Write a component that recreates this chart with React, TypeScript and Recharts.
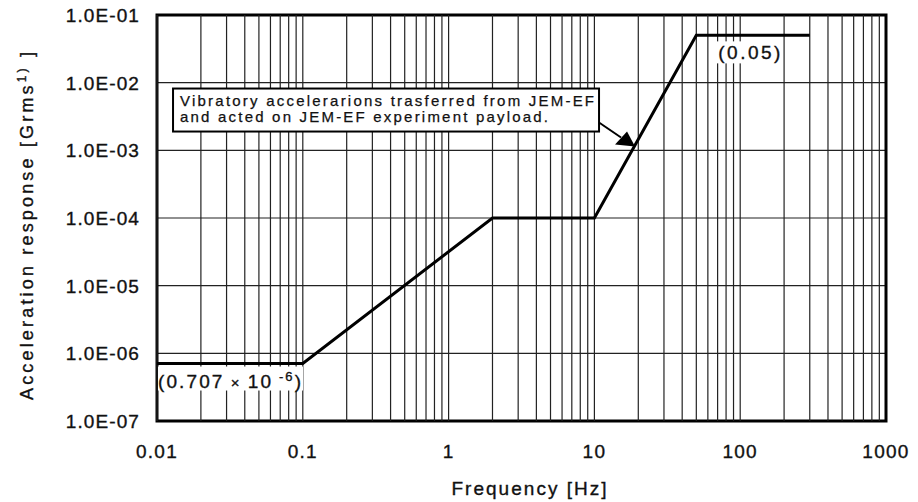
import React from "react";
import {
  LineChart,
  Line,
  XAxis,
  YAxis,
  CartesianGrid,
  ReferenceLine,
  ReferenceArea,
  ReferenceDot,
} from "recharts";

const FONT = "'Liberation Sans', Arial, Helvetica, sans-serif";
const INK = "#111";

// corner points of the response curve
const freq = [0.01, 0.1, 2, 10, 50, 300];
const accel = [0.707e-6, 0.707e-6, 1e-4, 1e-4, 0.05, 0.05];

const xTicks = [0.01, 0.1, 1, 10, 100, 1000];
const xTickLabels = ["0.01", "0.1", "1", "10", "100", "1000"];
const yTicks = [1e-7, 1e-6, 1e-5, 1e-4, 1e-3, 1e-2, 1e-1];
const yTickLabels = ["1.0E-07", "1.0E-06", "1.0E-05", "1.0E-04", "1.0E-03", "1.0E-02", "1.0E-01"];

const decades = [0.01, 0.1, 1, 10, 100];
const minorSteps = [2, 3, 4, 5, 6, 7, 8, 9];
const gridX = [...decades, ...decades.flatMap((d) => minorSteps.map((m) => d * m))];

const data = freq.map((f, i) => ({ f, a: accel[i] }));

const closest = (arr: number[], v: number) => {
  let best = 0;
  arr.forEach((t, i) => {
    if (Math.abs(Math.log10(t) - Math.log10(v)) < Math.abs(Math.log10(arr[best]) - Math.log10(v))) best = i;
  });
  return best;
};

const heavy = { stroke: INK, strokeWidth: 0.35 };

function XTick(props: any) {
  const { x, y, payload } = props;
  const i = closest(xTicks, payload.value);
  return (
    <text x={x} y={y + 35} textAnchor="middle" fontSize={19} letterSpacing={1.3} fill={INK} fontFamily={FONT} {...heavy}>
      {xTickLabels[i]}
    </text>
  );
}

function YTick(props: any) {
  const { x, y, payload } = props;
  const i = closest(yTicks, payload.value);
  return (
    <text x={x - 15} y={y + 7} textAnchor="end" fontSize={19} letterSpacing={1.1} fill={INK} fontFamily={FONT} {...heavy}>
      {yTickLabels[i]}
    </text>
  );
}

function LowLabel(props: any) {
  const { cx, cy } = props;
  return (
    <g fontFamily={FONT} fill={INK}>
      <rect x={cx + 1} y={cy + 3} width={145} height={24} fill="#fff" />
      <text x={cx + 1} y={cy + 24} fontSize={19} textLength={143} {...heavy}>
        (0.707
        <tspan fontSize={15}> × </tspan>
        10
        <tspan dy={-7} fontSize={13}> -6</tspan>
        <tspan dy={7}>)</tspan>
      </text>
    </g>
  );
}

function HighLabel(props: any) {
  const { cx, cy } = props;
  return (
    <g fontFamily={FONT} fill={INK}>
      <rect x={cx + 20} y={cy + 6} width={66} height={22} fill="#fff" />
      <text x={cx + 22} y={cy + 24} fontSize={19} textLength={62} {...heavy}>
        (0.05)
      </text>
    </g>
  );
}

function Callout(props: any) {
  const { cx, cy } = props;
  return (
    <g fontFamily={FONT}>
      <rect x={cx - 461} y={cy - 59} width={426} height={43} fill="#fff" stroke="#000" strokeWidth={2} />
      <text x={cx - 454} y={cy - 42} fontSize={15} textLength={414} fill={INK} stroke={INK} strokeWidth={0.25}>
        Vibratory accelerarions trasferred from JEM-EF
      </text>
      <text x={cx - 454} y={cy - 26} fontSize={15} textLength={368} fill={INK} stroke={INK} strokeWidth={0.25}>
        and acted on JEM-EF experiment payload.
      </text>
      <line x1={cx - 35} y1={cy - 25} x2={cx - 13} y2={cy - 10} stroke="#000" strokeWidth={2} />
      <polygon points={`${cx - 19},${cy - 3} ${cx - 7},${cy - 16} ${cx + 1},${cy - 1}`} fill="#000" />
    </g>
  );
}

export default function App() {
  return (
    <div style={{ position: "absolute", left: 0, top: 0, width: 918, height: 502, background: "#fff" }}>
      <LineChart width={918} height={502} data={data} margin={{ top: 15, right: 32, bottom: 0, left: 0 }}>
        <CartesianGrid vertical={false} stroke="#222" strokeWidth={1.2} />
        {gridX.map((v) => (
          <ReferenceLine key={v} x={v} stroke="#222" strokeWidth={1.2} />
        ))}
        <XAxis
          dataKey="f"
          type="number"
          scale="log"
          domain={[0.01, 1000]}
          ticks={xTicks}
          interval={0}
          allowDataOverflow
          height={81}
          tickSize={0}
          axisLine={false}
          tick={<XTick />}
        />
        <YAxis
          type="number"
          scale="log"
          domain={[1e-7, 0.1]}
          ticks={yTicks}
          interval={0}
          allowDataOverflow
          width={157}
          tickSize={0}
          axisLine={false}
          tick={<YTick />}
        />
        <ReferenceArea x1={0.01} x2={1000} y1={1e-7} y2={0.1} fill="none" stroke="#000" strokeWidth={3} />
        <ReferenceDot x={0.01} y={0.707e-6} shape={LowLabel} />
        <ReferenceDot x={50} y={0.05} shape={HighLabel} />
        <ReferenceDot x={18.7} y={1.1e-3} shape={Callout} />
        <Line dataKey="a" type="linear" stroke="#000" strokeWidth={3} dot={false} isAnimationActive={false} />
      </LineChart>
      <svg width={918} height={502} style={{ position: "absolute", left: 0, top: 0, pointerEvents: "none" }}>
        <text
          transform="translate(33,226) rotate(-90)"
          textAnchor="middle"
          fontSize={18}
          textLength={348}
          fontFamily={FONT}
          fill={INK}
          stroke={INK}
          strokeWidth={0.35}
        >
          Acceleration response [Grms
          <tspan dy={-7} fontSize={12}>1)</tspan>
          <tspan dy={7}> ]</tspan>
        </text>
        <text
          x={529}
          y={495}
          textAnchor="middle"
          fontSize={19}
          textLength={155}
          fontFamily={FONT}
          fill={INK}
          stroke={INK}
          strokeWidth={0.35}
        >
          Frequency [Hz]
        </text>
      </svg>
    </div>
  );
}
